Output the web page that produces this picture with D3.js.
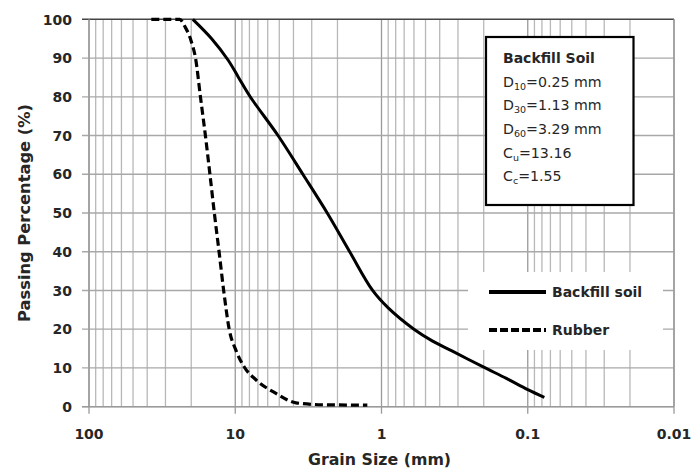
<!DOCTYPE html>
<html><head><meta charset="utf-8">
<script src="https://cdn.jsdelivr.net/npm/d3@7"></script>
<style>body{margin:0;background:#fff;}svg{display:block;}</style>
</head><body>
<svg id="c" width="692" height="472"></svg>
<script>
const xTickValues = [100, 10, 1, 0.1, 0.01];
const xTickLabels = ["100", "10", "1", "0.1", "0.01"];
const yTickValues = [0, 10, 20, 30, 40, 50, 60, 70, 80, 90, 100];

const backfillSize = [19.5, 14.5, 11.2, 9.5, 7.9, 5.1, 3.45, 2.35, 1.65, 1.15, 0.9, 0.6, 0.45, 0.33, 0.2, 0.14, 0.1, 0.077];
const backfillPass = [100, 95, 89.5, 85, 80, 70, 60, 50, 40, 30, 25.5, 20, 17, 14.4, 10.2, 7.3, 4.4, 2.4];

const rubberSize = [37.5, 24, 22, 20.1, 18.6, 17.3, 16, 14.9, 13.9, 12.9, 12.0, 11, 9.9, 8.7, 7.2, 5.3, 3.85, 2.5, 1.25];
const rubberPass = [100, 100, 98, 94.6, 89.5, 80, 70, 60, 50, 40, 30, 20, 14.6, 10.3, 6.9, 3.5, 1.0, 0.5, 0.4];

const seriesNames = ["Backfill soil", "Rubber"];
const infoTitle = "Backfill Soil";
const infoLines = [["D", "10", "=0.25 mm"], ["D", "30", "=1.13 mm"], ["D", "60", "=3.29 mm"], ["C", "u", "=13.16"], ["C", "c", "=1.55"]];

const svg = d3.select("#c");
const FONT = "'DejaVu Sans', sans-serif";
const TXT = "#262626";
const L = 89, R = 674, T = 19.3, B = 406.7;

const x = d3.scaleLog().domain([100, 0.01]).range([L, R]);
const y = d3.scaleLinear().domain([0, 100]).range([B, T]);

// vertical grid (minor + major)
const grid = svg.append("g");
grid.selectAll("line.v").data(x.ticks()).enter().append("line")
  .attr("x1", d => x(d)).attr("x2", d => x(d))
  .attr("y1", T).attr("y2", B)
  .attr("stroke", d => xTickValues.some(v => Math.abs(v - d) / v < 1e-9) ? "#9a9a9a" : "#b8b8b8")
  .attr("stroke-width", 1.3);
// horizontal grid
grid.selectAll("line.h").data(yTickValues).enter().append("line")
  .attr("x1", L - 7).attr("x2", R)
  .attr("y1", d => y(d)).attr("y2", d => y(d))
  .attr("stroke", d => d === 100 ? "#444" : "#a8a8a8")
  .attr("stroke-width", d => d === 100 ? 1.6 : 1.3);
// major x ticks below axis
grid.selectAll("line.t").data(xTickValues).enter().append("line")
  .attr("x1", d => x(d)).attr("x2", d => x(d))
  .attr("y1", B).attr("y2", B + 7)
  .attr("stroke", "#9a9a9a").attr("stroke-width", 1.3);
// axes lines
grid.append("line").attr("x1", L).attr("x2", L).attr("y1", T).attr("y2", B).attr("stroke", "#9a9a9a").attr("stroke-width", 1.4);
grid.append("line").attr("x1", R).attr("x2", R).attr("y1", T).attr("y2", B).attr("stroke", "#9a9a9a").attr("stroke-width", 1.4);
grid.append("line").attr("x1", L - 7).attr("x2", R).attr("y1", B).attr("y2", B).attr("stroke", "#9a9a9a").attr("stroke-width", 1.4);

// tick labels
svg.append("g").selectAll("text").data(yTickValues).enter().append("text")
  .attr("x", 72).attr("y", d => y(d) + 5.2)
  .attr("text-anchor", "end").attr("font-family", FONT).attr("font-weight", "bold")
  .attr("font-size", 14).attr("fill", TXT).text(d => d);
svg.append("g").selectAll("text").data(xTickValues).enter().append("text")
  .attr("x", d => x(d)).attr("y", 438.5)
  .attr("text-anchor", "middle").attr("font-family", FONT).attr("font-weight", "bold")
  .attr("font-size", 14).attr("fill", TXT).text((d, i) => xTickLabels[i]);

// axis titles
svg.append("text").attr("x", (L + R) / 2 - 2).attr("y", 464.5)
  .attr("text-anchor", "middle").attr("font-family", FONT).attr("font-weight", "bold")
  .attr("font-size", 15.8).attr("fill", TXT).text("Grain Size (mm)");
svg.append("text").attr("transform", `translate(29.5,${(T + B) / 2}) rotate(-90)`)
  .attr("text-anchor", "middle").attr("font-family", FONT).attr("font-weight", "bold")
  .attr("font-size", 16.3).attr("fill", TXT).text("Passing Percentage (%)");

// curves
const lineSmooth = d3.line().x(d => x(d[0])).y(d => y(d[1])).curve(d3.curveCatmullRom.alpha(0.5));
const lineMono = d3.line().x(d => x(d[0])).y(d => y(d[1])).curve(d3.curveMonotoneX);
const backfill = backfillSize.map((s, i) => [s, backfillPass[i]]);
const rubber = rubberSize.map((s, i) => [s, rubberPass[i]]);
svg.append("path").datum(backfill).attr("d", lineSmooth)
  .attr("fill", "none").attr("stroke", "#000").attr("stroke-width", 3);
svg.append("path").datum(rubber).attr("d", lineMono)
  .attr("fill", "none").attr("stroke", "#000").attr("stroke-width", 3.2)
  .attr("stroke-dasharray", "8,4");

// legend
const lg = svg.append("g");
lg.append("rect").attr("x", 468).attr("y", 272).attr("width", 195).attr("height", 78).attr("fill", "#fff");
const legY = [292, 330];
seriesNames.forEach((n, i) => {
  lg.append("line").attr("x1", 489).attr("x2", 546).attr("y1", legY[i]).attr("y2", legY[i])
    .attr("stroke", "#000").attr("stroke-width", 4)
    .attr("stroke-dasharray", i === 1 ? "8,3" : null);
  lg.append("text").attr("x", 552).attr("y", legY[i] + 5)
    .attr("font-family", FONT).attr("font-weight", "bold").attr("font-size", 14)
    .attr("fill", TXT).text(n);
});

// info box
const ib = svg.append("g");
ib.append("rect").attr("x", 486).attr("y", 37).attr("width", 147.5).attr("height", 168)
  .attr("fill", "#fff").attr("stroke", "#000").attr("stroke-width", 2.2);
ib.append("text").attr("x", 503).attr("y", 63).attr("font-family", FONT).attr("font-weight", "bold")
  .attr("font-size", 14).attr("fill", TXT).text(infoTitle);
infoLines.forEach((ln, i) => {
  const t = ib.append("text").attr("x", 503).attr("y", 86.7 + i * 23.6)
    .attr("font-family", FONT).attr("font-size", 14.2).attr("fill", TXT);
  t.append("tspan").text(ln[0]);
  t.append("tspan").attr("font-size", 9.5).attr("dy", 3).text(ln[1]);
  t.append("tspan").attr("dy", -3).text(ln[2]);
});
</script>
</body></html>
